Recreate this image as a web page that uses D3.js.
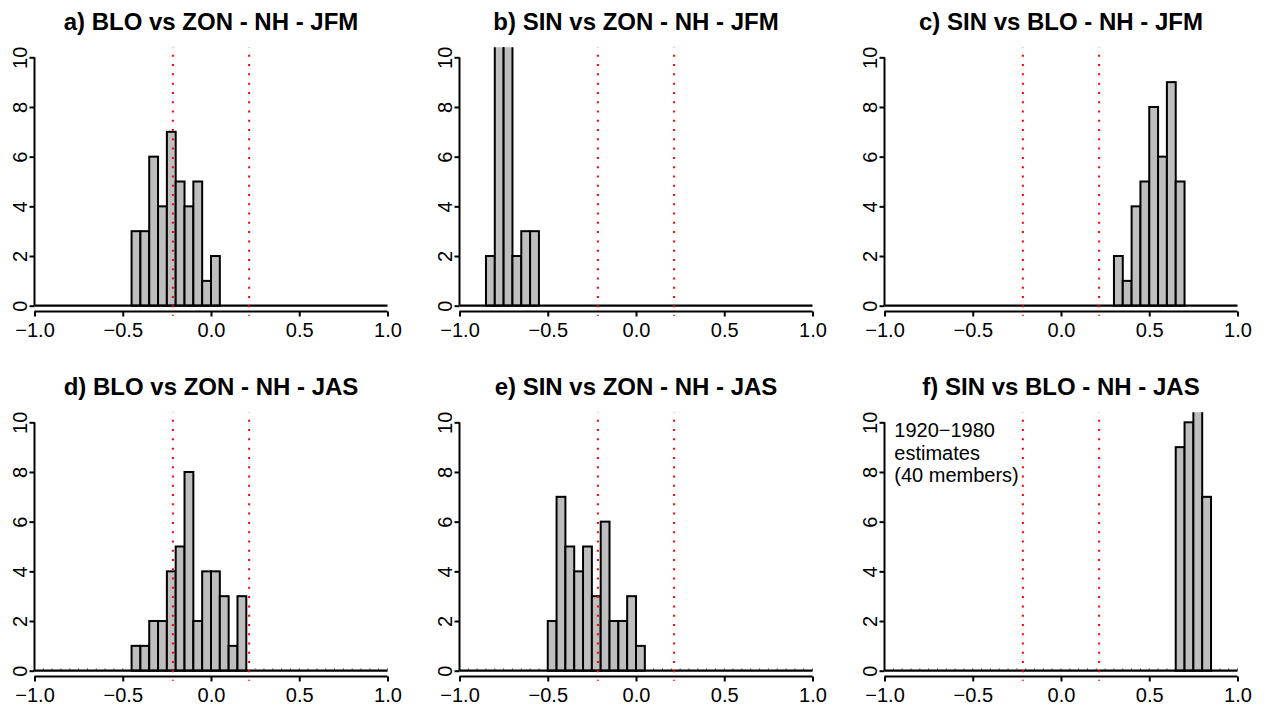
<!DOCTYPE html>
<html>
<head>
<meta charset="utf-8">
<script src="https://cdn.jsdelivr.net/npm/d3@7"></script>
<style>
  html, body { margin: 0; padding: 0; background: #fff; }
  svg { display: block; font-family: "Liberation Sans", Arial, Helvetica, sans-serif; }
</style>
</head>
<body>
<svg id="chart" width="1266" height="705"></svg>
<script>
// Histogram bins of width 0.05 on [-1, 1]; each array lists counts from binStart upward.
const panelTitles = [
  "a) BLO vs ZON - NH - JFM",
  "b) SIN vs ZON - NH - JFM",
  "c) SIN vs BLO - NH - JFM",
  "d) BLO vs ZON - NH - JAS",
  "e) SIN vs ZON - NH - JAS",
  "f) SIN vs BLO - NH - JAS"
];
const binStarts = [-0.45, -0.85, 0.30, -0.45, -0.50, 0.65];
const countsA = [3, 3, 6, 4, 7, 5, 4, 5, 1, 2];
const countsB = [2, 16, 14, 2, 3, 3];
const countsC = [2, 1, 4, 5, 8, 6, 9, 5];
const countsD = [1, 1, 2, 2, 4, 5, 8, 2, 4, 4, 3, 1, 3];
const countsE = [2, 7, 5, 4, 5, 3, 6, 2, 2, 3, 1];
const countsF = [9, 10, 14, 7];
const panelCounts = [countsA, countsB, countsC, countsD, countsE, countsF];
const binWidth = 0.05;
const significance = [-0.216, 0.216];
const xTicks = [-1.0, -0.5, 0.0, 0.5, 1.0];
const yTicks = [0, 2, 4, 6, 8, 10];
const noteLines = ["1920\u22121980", "estimates", "(40 members)"];

const svg = d3.select("#chart");
const fmt = v => d3.format(".1f")(v).replace("-", "\u2212");

// Per-panel geometry
const colX = [34.5, 459.5, 884.5];
const rowY = [0, 365];
const plotW = 353;
const y0px = 305.7, y10px = 57.3;

const x = d3.scaleLinear().domain([-1, 1]).range([0, plotW]);
const y = d3.scaleLinear().domain([0, 10]).range([y0px, y10px]);
const breaks = d3.range(-20, 21).map(k => k * binWidth);

svg.append("defs").selectAll("clipPath")
  .data([0]).join("clipPath")
  .attr("id", "plotclip")
  .append("rect")
  .attr("x", -20).attr("width", plotW + 40)
  .attr("y", y(10.4)).attr("height", y(-0.4) - y(10.4));

panelCounts.forEach((counts, i) => {
  const col = i % 3, row = Math.floor(i / 3);
  const g = svg.append("g").attr("transform", `translate(${colX[col]},${rowY[row]})`);

  const bins = counts.map((c, k) => ({
    x0: binStarts[i] + k * binWidth,
    x1: binStarts[i] + (k + 1) * binWidth,
    n: c
  }));

  // Title
  g.append("text")
    .attr("x", plotW / 2).attr("y", 29.5)
    .attr("text-anchor", "middle")
    .attr("font-weight", "bold")
    .attr("font-size", 24)
    .text(panelTitles[i]);

  // Empty bins show as faint edges sitting on the baseline (JAS row)
  if (row === 1) {
    g.selectAll(".edge").data(breaks).join("line")
      .attr("class", "edge")
      .attr("x1", d => x(d)).attr("x2", d => x(d))
      .attr("y1", y(0)).attr("y2", y(0) - 2.5)
      .attr("stroke", "#777").attr("stroke-width", 1);
  }

  // Bars (clipped to the plot region)
  const bars = g.append("g").attr("clip-path", "url(#plotclip)");
  bars.selectAll("rect").data(bins).join("rect")
    .attr("x", d => x(d.x0))
    .attr("width", d => x(d.x1) - x(d.x0))
    .attr("y", d => y(d.n))
    .attr("height", d => y(0) - y(d.n))
    .attr("fill", "#bebebe")
    .attr("stroke", "#000")
    .attr("stroke-width", 2);

  // Zero-count bins collapse onto the baseline
  g.append("line")
    .attr("x1", x(-1)).attr("x2", x(1))
    .attr("y1", y(0)).attr("y2", y(0))
    .attr("stroke", "#000").attr("stroke-width", 2.2);

  // Significance thresholds
  g.selectAll(".sig").data(significance).join("line")
    .attr("class", "sig")
    .attr("x1", d => x(d)).attr("x2", d => x(d))
    .attr("y1", y(-0.4)).attr("y2", y(10.4))
    .attr("stroke", "#ff0000")
    .attr("stroke-width", 2)
    .attr("stroke-dasharray", "2,7.28")
    .attr("stroke-dashoffset", 1);

  // X axis
  const xAxis = g.append("g").attr("transform", `translate(0,${y0px + 5.8})`)
    .call(d3.axisBottom(x).tickValues(xTicks).tickFormat(fmt).tickSize(5).tickPadding(5));
  xAxis.select(".domain").attr("d", `M${x(-1)},0H${x(1)}`).attr("stroke-width", 2);
  xAxis.selectAll(".tick line").attr("stroke-width", 2);
  xAxis.selectAll(".tick text")
    .attr("font-size", 20).attr("font-family", "Liberation Sans, Arial, sans-serif")
    .attr("fill", "#000").attr("dy", 0).attr("y", 25.5);

  // Y axis (labels rotated, reading upward)
  const yAxis = g.append("g").attr("transform", `translate(${x(-1)},0)`)
    .call(d3.axisLeft(y).tickValues(yTicks).tickFormat(d3.format("d")).tickSize(5));
  yAxis.select(".domain").attr("d", `M0,${y(0)}V${y(10)}`).attr("stroke-width", 2);
  yAxis.selectAll(".tick line").attr("stroke-width", 2);
  yAxis.selectAll(".tick text")
    .attr("font-size", 20).attr("font-family", "Liberation Sans, Arial, sans-serif")
    .attr("fill", "#000")
    .attr("x", null).attr("dy", null)
    .attr("text-anchor", "middle")
    .attr("transform", "translate(-8,0) rotate(-90)")
    .attr("y", 0);

  if (i === 5) {
    g.append("text")
      .attr("font-size", 20)
      .selectAll("tspan").data(noteLines).join("tspan")
      .attr("x", 894.3 - colX[2])
      .attr("y", (d, k) => 437.3 - rowY[1] + k * 22.5)
      .text(d => d);
  }
});
</script>
</body>
</html>
